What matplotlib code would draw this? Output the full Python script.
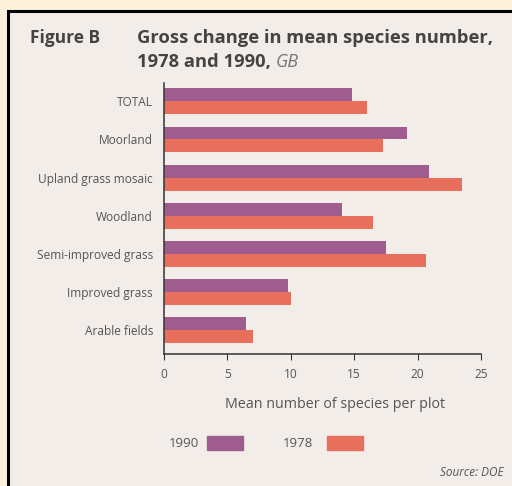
import matplotlib.pyplot as plt
from matplotlib.patches import Rectangle
from matplotlib.lines import Line2D

# data
habitats = ['TOTAL', 'Moorland', 'Upland grass mosaic', 'Woodland',
            'Semi-improved grass', 'Improved grass', 'Arable fields']
y1990 = [14.8, 19.2, 20.9, 14.0, 17.5, 9.8, 6.5]
y1978 = [16.0, 17.3, 23.5, 16.5, 20.7, 10.0, 7.0]
xticks = [0, 5, 10, 15, 20, 25]

purple = '#9f5d8f'
orange = '#e76f5b'
grey = '#555555'
inner = '#f3edea'

plt.rcParams['font.family'] = ['Open Sans', 'DejaVu Sans']

# whole figure in the inner colour, cream strips added on top/left
fig = plt.figure(figsize=(5.12, 4.86), dpi=100, facecolor=inner)
W, H = 512, 486

fig.patches.append(Rectangle((0, 1 - 11 / H), 1, 11 / H, transform=fig.transFigure,
                             facecolor='#fcf1da', edgecolor='none', zorder=-2))
fig.patches.append(Rectangle((0, 0), 8 / W, 1, transform=fig.transFigure,
                             facecolor='#fcf1da', edgecolor='none', zorder=-2))
fig.lines.append(Line2D([8 / W, 8 / W, 1], [0, 1 - 11 / H, 1 - 11 / H],
                        transform=fig.transFigure, color='black', lw=2.2,
                        solid_joinstyle='miter', zorder=-1))

ax = fig.add_axes([164 / W, 1 - 354 / H, (481 - 164) / W, (354 - 83) / H])
ax.set_facecolor('none')
ax.set_zorder(2)

pos = list(range(len(habitats)))
h = 0.34
ax.barh([p - h / 2 for p in pos], y1990, height=h, color=purple)
ax.barh([p + h / 2 for p in pos], y1978, height=h, color=orange)

ax.set_ylim(len(habitats) - 1 + 0.62, -0.48)
ax.set_xlim(0, 25)
ax.set_xticks(xticks)
ax.set_yticks(pos)
ax.set_yticklabels(habitats)
ax.tick_params(axis='y', length=0, pad=8, labelsize=8.6, labelcolor=grey)
ax.tick_params(axis='x', length=4, width=0.8, pad=6, labelsize=8.6, labelcolor=grey, color='#333333')
for s in ['top', 'right']:
    ax.spines[s].set_visible(False)
for s in ['left', 'bottom']:
    ax.spines[s].set_color('#333333')
    ax.spines[s].set_linewidth(1.1)

# title
fig.text(30 / W, 1 - 38 / H, 'Figure B', fontsize=12.5, fontweight='bold', color='#444444', va='center')
fig.text(137 / W, 1 - 38 / H, 'Gross change in mean species number,', fontsize=13.2,
         fontweight='bold', color='#444444', va='center')
t = fig.text(137 / W, 1 - 62 / H, '1978 and 1990, ', fontsize=13.2,
             fontweight='bold', color='#444444', va='center')
fig.canvas.draw()
bb = t.get_window_extent()
fig.text(bb.x1 / W, 1 - 62 / H, 'GB', fontsize=13, style='italic', color='#777777', va='center')

fig.text(335 / W, 1 - 404 / H, 'Mean number of species per plot', fontsize=10.3, color=grey,
         ha='center', va='center')

# legend
fig.text(199 / W, 1 - 443 / H, '1990', fontsize=9.5, color=grey, ha='right', va='center')
fig.patches.append(Rectangle((207 / W, 1 - 450 / H), 36 / W, 14 / H,
                             transform=fig.transFigure, color=purple))
fig.text(313 / W, 1 - 443 / H, '1978', fontsize=9.5, color=grey, ha='right', va='center')
fig.patches.append(Rectangle((327 / W, 1 - 450 / H), 36 / W, 14 / H,
                             transform=fig.transFigure, color=orange))

fig.text(504 / W, 1 - 472 / H, 'Source: DOE', fontsize=8.5, style='italic', color=grey,
         ha='right', va='center')

fig.savefig('out.png', dpi=100, facecolor=inner)
